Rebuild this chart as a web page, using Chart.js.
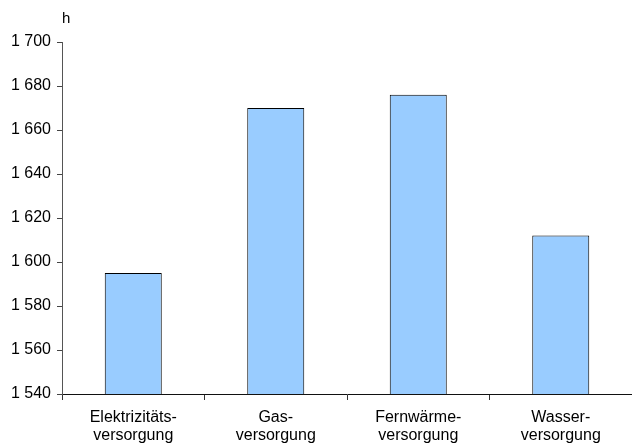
<!DOCTYPE html>
<html><head><meta charset="utf-8">
<script src="https://cdn.jsdelivr.net/npm/chart.js@4"></script>
<style>html,body{margin:0;padding:0;background:#fff}#w{width:632px;height:446px}</style>
</head><body><div id="w"><canvas id="c" width="632" height="446"></canvas></div>
<script>
const categories = [["Elektrizitäts-","versorgung"],["Gas-","versorgung"],["Fernwärme-","versorgung"],["Wasser-","versorgung"]];
const hours = [1595, 1670, 1676, 1612];
const yMin = 1540, yMax = 1700, yStep = 20;
const unitLabel = "h";

const fmt = v => String(v).replace(/\B(?=(\d{3})+(?!\d))/g, ' ');
const FONT = "'Liberation Sans', Arial, sans-serif";

const unitPlugin = {
  id: 'unit',
  afterDraw(chart) {
    const ctx = chart.ctx, y = chart.scales.y;
    ctx.save();
    ctx.font = "15px " + FONT;
    ctx.fillStyle = '#000';
    ctx.textAlign = 'left';
    ctx.textBaseline = 'middle';
    ctx.fillText(unitLabel, y.right, 19);
    ctx.restore();
  }
};

new Chart(document.getElementById('c'), {
  type: 'bar',
  data: { labels: categories, datasets: [{ data: hours, backgroundColor: '#99CCFF', borderColor: '#000', borderWidth: 1, categoryPercentage: 0.8, barPercentage: 0.5 }] },
  options: {
    responsive: false, animation: false, devicePixelRatio: 1,
    layout: { padding: { top: 42, right: 0, bottom: 0, left: 0 } },
    plugins: { legend: { display: false }, tooltip: { enabled: false } },
    scales: {
      x: {
        offset: true,
        afterFit(s) { s.height = 52; },
        grid: { display: true, offset: true, drawOnChartArea: false, tickLength: 6, color: '#333' },
        border: { color: '#111' },
        ticks: { color: '#000', font: { family: FONT, size: 16, lineHeight: 1.15 }, padding: 8, maxRotation: 0, autoSkip: false }
      },
      y: {
        min: yMin, max: yMax,
        afterFit(s) { s.width = 62; },
        grid: { display: true, drawOnChartArea: false, tickLength: 5, color: '#444' },
        border: { color: '#555' },
        ticks: { stepSize: yStep, color: '#000', font: { family: FONT, size: 16 }, padding: 6, callback: v => fmt(v) }
      }
    }
  },
  plugins: [unitPlugin]
});
</script></body></html>
